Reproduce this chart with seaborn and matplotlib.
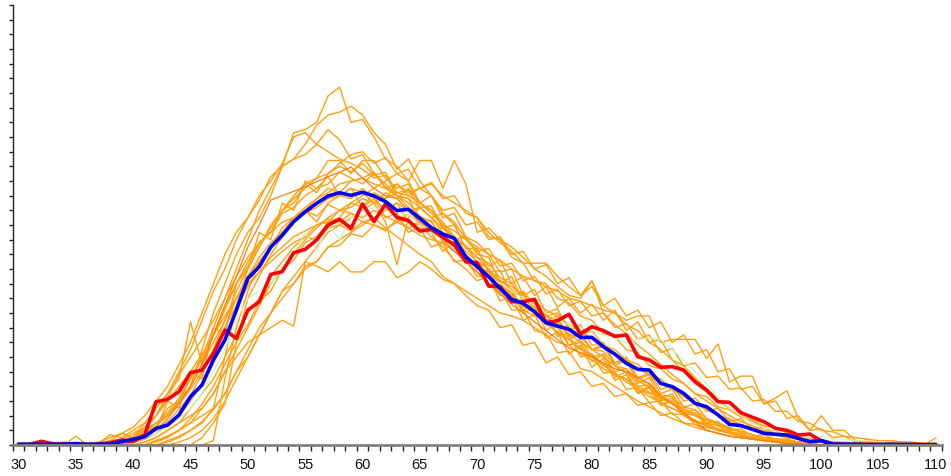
import numpy as np
import pandas as pd
import matplotlib
matplotlib.use("Agg")
import matplotlib.pyplot as plt
from matplotlib.ticker import MultipleLocator, FixedLocator
import seaborn as sns

x_values = list(range(30, 111))
x_tick_labels = list(range(30, 111, 5))

blue_mean = [0.05, 0.05, 0.05, 0.05, 0.05, 0.1, 0.05, 0.05, 0.07, 0.23,
             0.39, 0.57, 1.13, 1.36, 2.05, 3.3, 4.09, 5.8, 7.16, 9.2,
             11.36, 12.16, 13.5, 14.3, 15.23, 15.9, 16.48, 16.98, 17.2, 17.02,
             17.23, 16.98, 16.6, 15.98, 16.07, 15.45, 14.82, 14.38, 14.09, 12.84,
             12.16, 11.48, 10.68, 9.93, 9.66, 9.09, 8.34, 8.11, 7.89, 7.34,
             7.34, 6.7, 6.2, 5.57, 5.16, 5.11, 4.2, 3.98, 3.52, 2.84,
             2.61, 2.05, 1.41, 1.32, 1.07, 0.8, 0.73, 0.68, 0.45, 0.23,
             0.3, 0.07, 0.05, 0.05, 0.03, 0.03, 0.05, 0.03, 0.03, 0.02, 0.02]

red_series = [0.05, 0.05, 0.25, 0.08, 0.1, 0.05, 0.05, 0.08, 0.15, 0.34,
              0.23, 0.68, 2.95, 3.11, 3.64, 4.93, 5.11, 6.25, 7.84, 7.27,
              9.2, 9.77, 11.63, 11.82, 13.11, 13.34, 13.98, 15.0, 15.39, 14.77,
              16.43, 15.23, 16.43, 15.52, 15.3, 14.59, 14.7, 14.17, 13.64, 12.5,
              12.43, 10.84, 10.8, 9.77, 9.77, 9.93, 8.34, 8.48, 8.91, 7.57,
              8.07, 7.8, 7.41, 7.5, 6.02, 5.8, 5.3, 5.34, 5.11, 4.32,
              3.75, 2.95, 2.91, 2.2, 1.89, 1.59, 1.14, 1.0, 0.68, 0.75,
              0.27, 0.05, 0.05, 0.05, 0.04, 0.04, 0.04, 0.04, 0.04, 0.04, 0.04]

green_series = [0, 0, 0, 0, 0, 0, 0, 0, 0, 0,
                0.2, 0.5, 0.8, 1.2, 1.8, 2.5, 3.5, 5, 6.5, 8.5,
                10, 10.5, 11, 12, 13, 14.5, 13.2, 15, 14, 15.5,
                16, 16.2, 16, 15.5, 15.8, 15, 14.5, 14, 13.5, 13,
                12.2, 11.5, 11, 10.5, 10, 9.5, 9, 8.5, 8.2, 8,
                7.8, 7.5, 7.3, 7, 7.2, 7.3, 7.2, 6.5, 5.8, 5,
                4.2, 3.2, 2.5, 2, 1.5, 1.2, 0.9, 0.7, 0.6, 0.5,
                0.6, 0.4, 0.4, 0.3, 0.3, 0.2, 0.2, 0.1, 0.1, 0.1, 0]

dark_orange_series = [0, 0, 0, 0, 0, 0, 0, 0, 0, 0,
                      0.2, 0.5, 1, 1.8, 2.8, 4, 5.5, 7.5, 9.5, 11.5,
                      13.5, 15, 16.7, 17, 17.3, 17.6, 17.95, 18.3, 18.6, 18.95,
                      18.2, 17.5, 17, 16.8, 16, 15.2, 14.8, 14, 13.2, 12.5,
                      11.8, 11, 10.3, 9.6, 9, 8.4, 7.8, 7.2, 6.6, 6.3,
                      6, 5.6, 5.2, 5, 4.6, 4.2, 3.3, 2.8, 2.2, 1.6,
                      1, 0.8, 0.6, 0.5, 0.4, 0.3, 0.2, 0.1, 0.1, 0,
                      0, 0, 0, 0, 0, 0, 0, 0, 0, 0, 0]

o01 = [0, 0, 0, 0, 0, 0, 0, 0, 0.2, 0.3,
       0.5, 1, 1.5, 2, 3, 4.5, 6, 8, 10, 12,
       14, 16, 17.5, 19, 21.3, 21.5, 22, 23.8, 24.4, 22,
       22.2, 21, 19.5, 19, 18, 16.5, 16, 15, 14, 13.5,
       12.5, 12, 10.8, 10.5, 9.2, 9.6, 8.2, 8, 6.8, 7.2,
       6, 6.2, 5, 5.2, 4, 4.1, 3, 3.2, 2.2, 2,
       1.5, 1.6, 1, 1.1, 0.6, 0.7, 0.4, 0.4, 0.2, 0.1,
       0, 0, 0, 0, 0, 0, 0, 0, 0, 0, 0]
o02 = [0, 0, 0, 0, 0, 0, 0, 0, 0, 0.2,
       0.4, 0.8, 1.2, 2.5, 3, 4, 6.5, 9, 11, 13,
       14.5, 15.5, 17, 19, 19.5, 20.5, 21.8, 22.5, 22.7, 23.1,
       22.5, 21.3, 20.5, 18.8, 19.5, 18, 17, 15.5, 15.8, 14.2,
       13, 12.8, 11, 11.5, 9.7, 10, 8.5, 8.8, 7.2, 7.6,
       6.5, 6.9, 5.4, 5.8, 4.2, 4.6, 3.1, 3.5, 2.2, 2.4,
       1.5, 1.3, 0.9, 0.8, 0.5, 0.4, 0.3, 0.2, 0.2, 0.1,
       0, 0, 0, 0, 0, 0, 0, 0, 0, 0, 0]
o03 = [0, 0, 0, 0, 0, 0, 0, 0, 0, 0,
       0, 0.2, 0.5, 1, 1.5, 2, 2.5, 3.5, 5, 6,
       7, 7.5, 8, 8.5, 8.1, 12.5, 12.2, 11.8, 12.5, 11.8,
       11.8, 12.5, 12.5, 11.4, 11.8, 12.5, 12, 11.3, 11, 10.5,
       10, 9.5, 9, 8.8, 8.5, 8, 7.5, 7, 6.8, 6.2,
       5.8, 5.2, 4.8, 4.5, 4, 3.6, 3.2, 2.8, 2.4, 2,
       1.7, 1.4, 1.1, 0.9, 0.7, 0.5, 0.4, 0.3, 0.2, 0.1,
       0, 0, 0, 0, 0, 0, 0, 0, 0, 0, 0]
o04 = [0, 0, 0, 0, 0, 0, 0, 0, 0, 0,
       0, 0, 0, 0, 0, 0, 0, 0.3, 4.5, 8,
       10.5, 12.5, 13.5, 14.8, 15.5, 16, 15.2, 16.5, 17, 16.8,
       17.5, 16.8, 16, 16.5, 15.2, 15, 14.5, 13.2, 13.8, 12.5,
       11.8, 11, 10.5, 10.2, 9.2, 8.8, 8.5, 7.6, 7.2, 6.5,
       6.2, 5.5, 4.8, 4.5, 3.8, 3.5, 2.8, 2.5, 2.1, 1.6,
       1.4, 1.1, 0.9, 0.6, 0.5, 0.4, 0.3, 0.2, 0.1, 0.1,
       0, 0, 0, 0, 0, 0, 0, 0, 0, 0, 0]
o05 = [0, 0, 0, 0, 0, 0.6, 0, 0.1, 0.7, 0.5,
       1, 1.5, 2.5, 3.5, 4.5, 8.4, 5.5, 7.5, 9.5, 11,
       12.5, 13.8, 14.5, 15.8, 16.2, 17, 17.5, 17.8, 18.6, 18.2,
       17.8, 18.5, 17.6, 17, 16.5, 15.6, 15.2, 14.2, 13.5, 12.8,
       12, 11.5, 10.2, 10.5, 9, 9.4, 7.8, 8.3, 6.8, 7,
       5.7, 6.2, 4.6, 5, 3.6, 4, 2.8, 3, 2, 1.6,
       1.3, 1, 0.8, 0.6, 0.5, 0.4, 0.3, 0.2, 0.1, 0.1,
       0, 0, 0, 0, 0, 0, 0, 0, 0, 0, 0]
o06 = [0, 0, 0, 0, 0, 0, 0, 0, 0, 0,
       0, 0, 0.3, 0.6, 1, 1.5, 2.5, 3.5, 5, 6.5,
       8, 9.5, 11, 12, 13, 14, 14.8, 15.5, 16, 16.5,
       17, 17.5, 18, 18.5, 18, 19.4, 19.4, 17.5, 19.4, 17.8,
       14.5, 14.8, 14, 13.5, 12.8, 12, 11.5, 10.8, 10.2, 10,
       11.2, 9.5, 9, 8.2, 7.8, 7, 6.5, 5.8, 5, 4.2,
       3.6, 3, 2.5, 2, 1.6, 1.2, 0.9, 0.7, 0.5, 0.3,
       0.2, 0.1, 0, 0, 0, 0, 0, 0, 0, 0, 0]
o07 = [0, 0, 0, 0, 0, 0, 0, 0, 0, 0,
       0, 0, 0, 0.2, 0.5, 1, 1.5, 2.5, 3.5, 5,
       6, 7.5, 9, 10, 11, 12, 12.5, 13.5, 14, 14.5,
       15, 15.5, 16, 16.5, 16, 16.2, 15.5, 15.8, 15, 14.2,
       13.8, 13, 12.6, 12, 11.5, 11.2, 10.8, 10.5, 10, 9.8,
       9.5, 9.2, 9, 8.5, 8.8, 8.8, 7, 7.2, 7.2, 7.2,
       5.9, 6.9, 4.3, 4.7, 4.7, 2.8, 3.2, 3.7, 1.8, 1,
       2, 1, 1, 0.3, 0.2, 0.1, 0, 0, 0, 0, 0]
o08 = [0, 0, 0, 0, 0, 0, 0, 0, 0, 0.2,
       0.5, 1, 1.5, 2, 3, 4, 5.5, 7, 8.5, 10,
       11.5, 12.5, 13.5, 14.5, 15.5, 16.2, 16.8, 17.2, 17.8, 18,
       18.2, 18.6, 17.5, 17.8, 17, 16.5, 15.8, 15, 14.6, 14,
       13.2, 12.2, 12.6, 11, 11.5, 10.2, 10.8, 9.4, 10, 9,
       9.6, 8.5, 9.2, 7.8, 8.4, 7, 7.2, 5.8, 5.4, 4.6,
       3.8, 3.2, 2.5, 2, 1.5, 1.2, 0.9, 0.6, 0.4, 0.3,
       0.2, 0.1, 0, 0, 0, 0, 0, 0, 0, 0, 0]
o09 = [0, 0, 0, 0, 0, 0, 0, 0.2, 0.5, 0.8,
       1.2, 2, 3, 4, 5.5, 7, 9, 11, 13, 14.5,
       15.5, 16.7, 18.3, 19, 19.5, 19.8, 20.5, 20, 19.5, 19.2,
       18.8, 18.2, 18.4, 17, 16.8, 15.4, 15.3, 13.8, 13.9, 12.4,
       12.2, 10.8, 10.6, 9.2, 9.2, 7.8, 7.6, 6.3, 6.4, 5.2,
       5, 4.5, 4, 3.5, 3, 2.6, 2.2, 1.8, 1.5, 1.2,
       1, 0.8, 0.6, 0.5, 0.4, 0.3, 0.2, 0.1, 0.1, 0,
       0, 0, 0, 0, 0, 0, 0, 0, 0, 0, 0]
o10 = [0, 0, 0, 0, 0, 0, 0, 0, 0, 0,
       0.3, 0.6, 1, 1.6, 2.4, 3.4, 4.8, 6.5, 8.5, 10.5,
       12, 13.5, 14.8, 16, 16.8, 17.5, 18.2, 19.4, 19.4, 18.5,
       19.4, 19.4, 18.2, 17.5, 17.8, 16.5, 16, 15.2, 14.2, 13.6,
       12.8, 12, 11.2, 10.6, 10, 9.4, 8.8, 8.2, 7.6, 7,
       6.5, 6, 5.4, 4.9, 4.4, 3.9, 3.4, 2.9, 2.5, 2.1,
       1.7, 1.4, 1.1, 0.9, 0.7, 0.5, 0.4, 0.3, 0.2, 0.1,
       0, 0, 0, 0, 0.4, 0.2, 0, 0, 0, 0, 0]
o11 = [0, 0, 0, 0, 0, 0, 0, 0, 0, 0,
       0.2, 0.4, 0.8, 1.4, 2, 3, 4.2, 6, 8, 10,
       11.5, 12.8, 13.8, 14.5, 15.3, 15.8, 16.2, 16.8, 17, 17.5,
       17.2, 16.5, 15.2, 12.3, 15.5, 16.2, 15.5, 14.5, 14, 13.2,
       12.5, 11.6, 11, 10.2, 9.5, 9, 8.3, 7.7, 7.2, 6.6,
       6, 5.4, 4.9, 4.3, 3.8, 3.3, 2.9, 2.5, 2.1, 1.7,
       1.4, 1.1, 0.9, 0.7, 0.5, 0.4, 0.3, 0.2, 0.1, 0.1,
       0, 0, 0, 0, 0, 0, 0, 0, 0, 0, 0]
o12 = [0, 0, 0, 0, 0, 0, 0, 0, 0, 0,
       0, 0, 0, 0, 0.2, 0.5, 1, 1.8, 3, 4.5,
       6, 7.5, 9, 10.5, 11.5, 12.5, 13.5, 14.5, 15, 15.5,
       16, 16.5, 16.8, 17.2, 17, 17.5, 17.8, 17, 16.5, 16,
       15.5, 14.5, 13.8, 13.2, 12.4, 12.4, 12.4, 11.5, 10.8, 10.2,
       11.2, 9, 8.2, 7.6, 6.8, 6.2, 5.5, 4.8, 4.2, 3.5,
       3, 2.5, 2, 1.6, 1.3, 1, 0.8, 0.6, 0.4, 0.3,
       0.2, 0.1, 0, 0, 0, 0, 0, 0, 0, 0, 0]
o13 = [0, 0, 0, 0, 0, 0, 0, 0, 0.3, 0.4,
       0.8, 1.2, 2, 3, 4, 5, 6.2, 7.5, 8.8, 10,
       11, 11.8, 12.5, 13.2, 13.8, 14.2, 14, 14.8, 15, 14.6,
       15.2, 15, 14.7, 15.2, 14.8, 14.3, 14, 13.8, 13.2, 12.8,
       12.2, 11.8, 11.2, 10.8, 10.2, 9.8, 9.2, 8.8, 8.2, 7.8,
       7.2, 6.8, 6.2, 5.8, 5.2, 4.8, 4.2, 3.8, 3.3, 2.8,
       2.4, 2, 1.7, 1.4, 1.1, 0.9, 0.7, 0.5, 0.4, 0.3,
       0.2, 0.1, 0, 0, 0, 0, 0.3, 0.2, 0, 0, 0]
o14 = [0, 0, 0, 0, 0, 0, 0, 0, 0, 0,
       0, 0, 0.3, 0.6, 1, 1.5, 2, 2.5, 6, 9.5,
       12, 13.5, 15, 16, 17, 17.8, 18.2, 18.5, 19, 18.6,
       19.2, 18.4, 18.6, 17.2, 17.4, 16.2, 16.3, 14.8, 15, 13.4,
       13.4, 11.8, 11.9, 10.2, 10.4, 8.8, 9, 7.4, 7.6, 6,
       6.2, 4.9, 5, 3.8, 3.9, 2.9, 3, 2.1, 2.1, 1.4,
       1.2, 1, 0.8, 0.6, 0.4, 0.3, 0.2, 0.2, 0.1, 0,
       0, 0, 0, 0, 0, 0, 0, 0, 0, 0, 0]
o15 = [0, 0, 0, 0, 0, 0, 0, 0, 0.3, 0.8,
       0.5, 1.2, 2, 3.2, 4.8, 6, 7.2, 8.5, 10, 11.5,
       12.8, 13.8, 14.5, 15.2, 15.5, 16, 15.6, 16.4, 16, 15.8,
       15.2, 15.5, 14.8, 14.2, 13.6, 13, 12.5, 11.5, 11, 10.2,
       9.5, 9.2, 8, 8.2, 6.8, 7, 5.6, 6, 4.8, 5,
       4, 4.2, 3.3, 3.5, 2.7, 2.9, 2, 2.2, 1.5, 1.4,
       1, 0.8, 0.6, 0.5, 0.4, 0.3, 0.2, 0.1, 0.1, 0,
       0, 0, 0, 0, 0, 0, 0, 0, 0, 0, 0]
o16 = [0, 0, 0, 0, 0, 0, 0, 0, 0, 0.2,
       0.5, 0.8, 1.5, 2.2, 3.2, 4.5, 5.8, 7.5, 9.2, 11,
       12.2, 13.8, 14.5, 16, 16.5, 17.8, 17.2, 18.5, 19.2, 19.8,
       20, 19.2, 19.6, 18.5, 18.8, 17.5, 17, 15.8, 15.2, 14,
       13.5, 13, 11.8, 12, 10.2, 10.6, 9, 9.3, 7.8, 8.2,
       6.8, 7, 5.6, 6, 4.5, 4.8, 3.5, 3.8, 2.6, 2.8,
       1.8, 1.5, 1.2, 0.9, 0.7, 0.5, 0.4, 0.3, 0.2, 0.1,
       0, 0, 0, 0, 0, 0, 0, 0, 0, 0, 0]
o17 = [0, 0, 0, 0, 0, 0, 0, 0, 0, 0.3,
       0.6, 1.2, 2, 3.5, 5, 6.5, 8.5, 10.5, 12, 14,
       15.5, 17, 18, 19.2, 21, 21.3, 20.5, 21.5, 20.8, 19.5,
       19.8, 18.5, 17.8, 17, 16.2, 15, 14.2, 13.5, 12.6, 12,
       11.2, 11.5, 9.8, 10.2, 8.5, 8.9, 7.3, 7.7, 6.2, 6.8,
       5.3, 5.9, 4.4, 4.8, 3.5, 3.9, 2.7, 3, 2, 2.2,
       1.3, 1, 0.8, 0.6, 0.5, 0.4, 0.3, 0.2, 0.1, 0.1,
       0, 0, 0, 0, 0, 0, 0, 0, 0, 0, 0]
o18 = [0, 0, 0, 0, 0, 0, 0, 0, 0.2, 0.1,
       0.4, 0.8, 1.3, 2, 2.8, 3.8, 5, 6.5, 8, 9.5,
       10.8, 11.8, 12.8, 13.5, 14.2, 14.6, 15, 15.4, 15.2, 15.8,
       15.5, 16, 15.6, 15.2, 15.8, 15, 14.6, 14, 13.8, 13,
       12.2, 11.8, 11, 10.2, 10.5, 9.5, 8.8, 9, 8, 7.5,
       7.8, 6.8, 6.5, 5.8, 5.5, 4.8, 4.5, 3.8, 3.5, 2.8,
       2.5, 2, 1.8, 1.3, 1.1, 0.8, 0.7, 0.5, 0.4, 0.2,
       0.2, 0.1, 0, 0, 0, 0, 0, 0, 0, 0, 0.5]
o19 = [0, 0, 0, 0, 0, 0, 0, 0, 0, 0,
       0, 0, 0, 0, 0, 0, 0.5, 1.5, 2.8, 7,
       10, 11.5, 13, 14.2, 15.2, 16, 16.8, 17.5, 17.2, 18,
       18.2, 17.8, 17.5, 17, 16.8, 16.2, 15.5, 14.8, 14.2, 13.5,
       12.8, 12.4, 11.4, 11, 10, 9.8, 8.8, 8.6, 7.5, 7.4,
       6.5, 6.4, 5.4, 5.2, 4.4, 4.2, 3.4, 3.3, 2.6, 2.4,
       1.8, 1.5, 1.2, 0.9, 0.7, 0.5, 0.4, 0.3, 0.2, 0.1,
       0, 0, 0, 0, 0, 0, 0, 0, 0, 0, 0]
o20 = [0, 0, 0, 0, 0, 0, 0, 0, 0, 0,
       0, 0.2, 0.5, 1, 1.5, 2.5, 3.5, 4.5, 6, 7.5,
       9, 10, 11.5, 12.5, 13.5, 14.2, 15, 15.2, 16, 16.2,
       16.8, 16.5, 17.2, 16.8, 17.5, 16.5, 17, 16, 16.2, 15,
       15.2, 14, 14.2, 13, 13.2, 12, 12.3, 11, 11.4, 10.2,
       10.8, 9.5, 10, 8.8, 9.2, 8, 8.4, 7, 7.5, 6.2,
       6.5, 5, 5.2, 3.8, 4, 2.8, 3, 1.8, 2, 1,
       1.1, 0.5, 0.6, 0.2, 0.3, 0.1, 0.2, 0, 0, 0, 0]
o21 = [0, 0, 0, 0, 0, 0, 0, 0, 0, 0,
       0.5, 1.5, 1, 3, 2.5, 5, 4.5, 8, 7.5, 11,
       12, 14.5, 14, 16.5, 16, 18, 17.5, 18.3, 17, 17.5,
       16.2, 16.8, 15.5, 15.8, 14.5, 14.8, 13.5, 13.8, 12.5, 12.6,
       11.5, 11.6, 10.4, 10.5, 9.4, 9.5, 8.4, 8.5, 7.4, 7.6,
       6.5, 6.7, 5.6, 5.8, 4.6, 4.9, 3.8, 4, 3, 3.2,
       2.3, 2.5, 1.6, 1.8, 1.1, 1.2, 0.7, 0.8, 0.4, 0.4,
       0.2, 0.2, 0.1, 0, 0, 0, 0, 0, 0, 0, 0]
o22 = [0, 0, 0, 0, 0, 0, 0, 0, 0, 0,
       0, 0, 0.2, 0.5, 1, 1.8, 2.8, 4, 5.5, 7,
       8.2, 9.8, 10.5, 12, 12.6, 13.8, 14.2, 15.2, 15.5, 16.5,
       16.2, 17.2, 16.8, 17.8, 17.2, 17.5, 17.9, 16.8, 17, 15.8,
       15.5, 14.2, 14, 12.8, 12.4, 11.2, 11, 10, 9.7, 8.8,
       8.5, 7.6, 7.4, 6.5, 6.3, 5.4, 5.2, 4.5, 4.2, 3.5,
       3.3, 2.6, 2.4, 1.9, 1.7, 1.3, 1.2, 0.8, 0.7, 0.4,
       0.4, 0.2, 0.2, 0.1, 0.1, 0, 0, 0, 0, 0, 0]
o23 = [0, 0, 0, 0, 0, 0, 0, 0, 0, 0,
       0, 0, 0, 0.3, 0.6, 1, 1.6, 2.4, 3.5, 5,
       6.5, 8, 9, 10.5, 11, 12.2, 12.5, 13.5, 13.6, 14.4,
       14.2, 15, 14.6, 15.4, 14.8, 15.2, 14.6, 14.8, 14, 14.2,
       13.2, 13.4, 12.2, 12.4, 11.2, 11.5, 10.3, 10.6, 9.5, 9.8,
       8.8, 9, 8, 8.3, 7.2, 7.5, 6.3, 6.6, 5.4, 5.6,
       4.6, 4.7, 3.8, 3.9, 3, 3.1, 2.3, 2.3, 1.6, 1.5,
       1, 0.9, 0.6, 0.5, 0.4, 0.3, 0.3, 0.2, 0.2, 0.1, 0.1]

orange_series = [o01, o02, o03, o04, o05, o06, o07, o08, o09, o10, o11, o12,
                 o13, o14, o15, o16, o17, o18, o19, o20, o21, o22, o23]

# ---------------------------------------------------------------
sns.set_theme(style="white")
plt.rcParams['font.family'] = ['Liberation Sans', 'DejaVu Sans']

fig = plt.figure(figsize=(9.51, 4.76), dpi=100)
ax = fig.add_axes([0.0134, 0.0651, 0.9768, 0.9244])

for vals in orange_series:
    sns.lineplot(x=x_values, y=vals, ax=ax, color="#FFA010", linewidth=1.0,
                 estimator=None, legend=False)
sns.lineplot(x=x_values, y=green_series, ax=ax, color="#C8F5C0", linewidth=0.9,
             estimator=None, legend=False)
sns.lineplot(x=x_values, y=dark_orange_series, ax=ax, color="#FF7A10", linewidth=0.9,
             estimator=None, legend=False)
sns.lineplot(x=x_values, y=red_series, ax=ax, color="#FF0000", linewidth=2.6,
             estimator=None, legend=False)
sns.lineplot(x=x_values, y=blue_mean, ax=ax, color="#0000FF", linewidth=2.6,
             estimator=None, legend=False)

ax.set_xlim(29.5, 110.5)
ax.set_ylim(0, 30)
ax.set_xlabel("")
ax.set_ylabel("")

ax.xaxis.set_major_locator(FixedLocator(x_tick_labels))
ax.set_xticklabels([str(v) for v in x_tick_labels])
ax.xaxis.set_minor_locator(FixedLocator(np.arange(29.5, 111, 1.0)))
ax.tick_params(axis='x', which='major', length=0, pad=9, labelsize=10.5, labelcolor="#111111")
ax.tick_params(axis='x', which='minor', bottom=True, length=4, width=1, color="#222222", direction='out')

ax.yaxis.set_major_locator(MultipleLocator(1))
ax.tick_params(axis='y', which='major', left=True, length=3, width=1, color="#222222",
               direction='out', labelleft=False)

for s in ['top', 'right']:
    ax.spines[s].set_visible(False)
ax.spines['left'].set_color("#222222")
ax.spines['left'].set_linewidth(1.0)
ax.spines['bottom'].set_color("#808080")
ax.spines['bottom'].set_linewidth(2.0)
ax.grid(False)

fig.savefig("out.png", dpi=100)
